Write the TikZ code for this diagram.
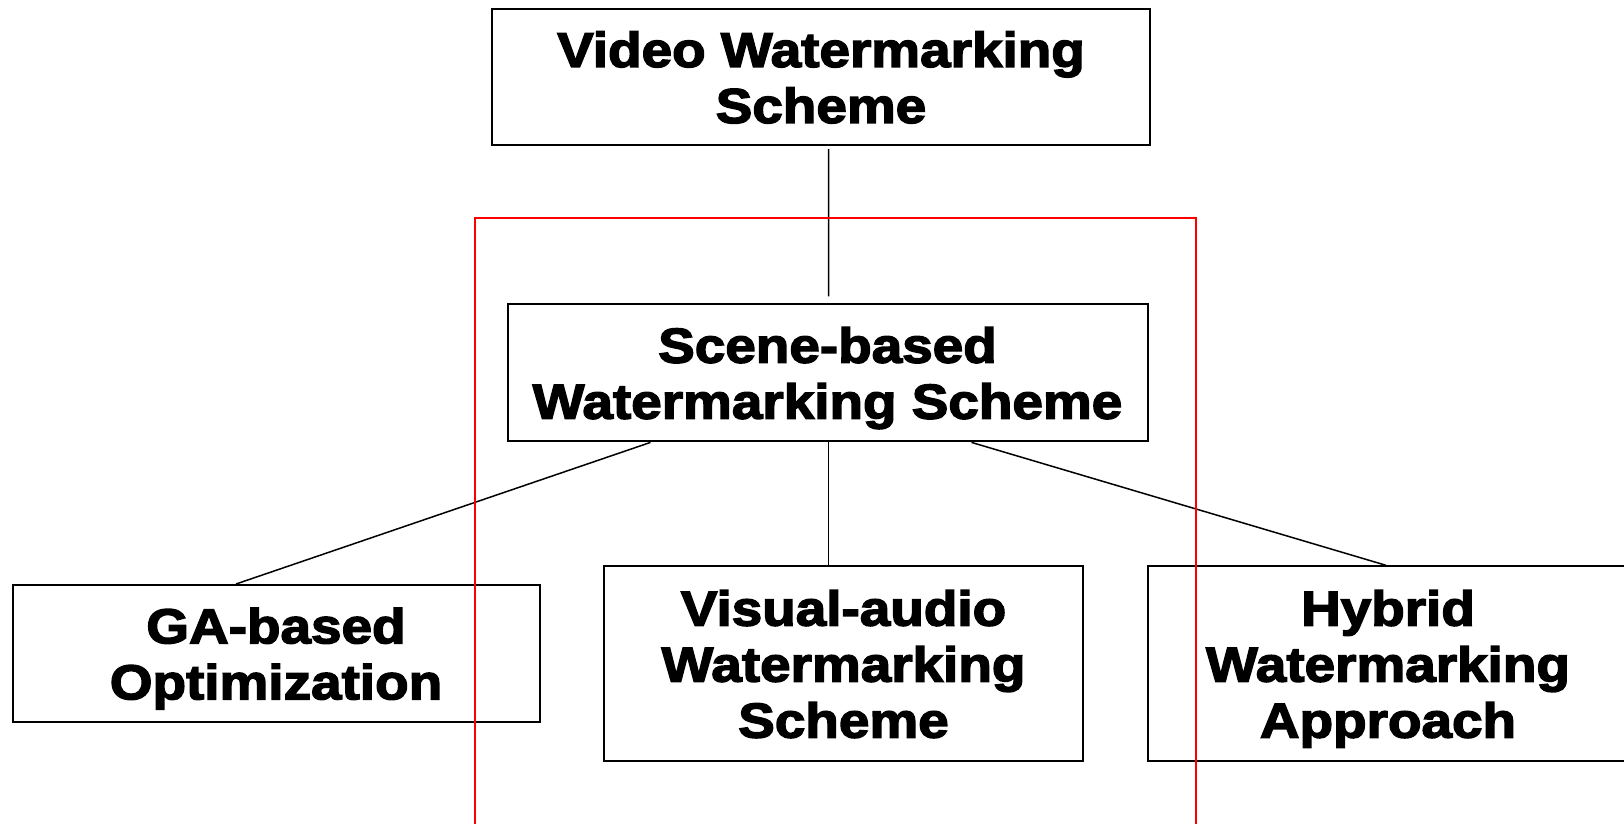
\documentclass[tikz,border=0pt]{standalone}
\usepackage{fontspec}
\newfontfamily\boxfont[FakeStretch=1.12,BoldFeatures={FakeBold=3}]{Liberation Sans}
\tikzset{
  schemebox/.style={draw=black, line width=2pt, rectangle, align=center,
    inner sep=0pt, text depth=0pt,
    font=\boxfont\bfseries\fontsize{49}{56}\selectfont},
  link/.style={draw=black, line width=1.5pt},
  frameline/.style={draw=red, line width=2pt}
}
\begin{document}
\begin{tikzpicture}[x=1pt, y=-1pt]
  \useasboundingbox (0,0) rectangle (1624,823);
  \clip (0,0) rectangle (1624,823);

  % hierarchy of schemes
  \node[schemebox, minimum width=658pt, minimum height=136pt] (video) at (821,77.2)
    {Video Watermarking\\Scheme};
  \node[schemebox, minimum width=640pt, minimum height=137pt] (scene) at (827.5,372.9)
    {Scene-based\\Watermarking Scheme};
  \node[schemebox, minimum width=527pt, minimum height=137pt] (ga) at (276,653.5)
    {GA-based\\Optimization};
  \node[schemebox, minimum width=479.5pt, minimum height=195pt] (visual) at (843.5,663.8)
    {Visual-audio\\Watermarking\\Scheme};
  \node[schemebox, minimum width=480.5pt, minimum height=195pt] (hybrid) at (1388,663.8)
    {Hybrid\\Watermarking\\Approach};

  % connectors
  \draw[link] ([xshift=7.6pt, yshift=-3pt]video.south) -- ([xshift=1pt, yshift=7pt]scene.north);
  \draw[link] ([xshift=-177pt]scene.south) -- ([xshift=-40pt]ga.north);
  \draw[link] ([xshift=1pt]scene.south) -- ([xshift=-15pt]visual.north);
  \draw[link] ([xshift=144pt]scene.south) -- ([xshift=-2pt]hybrid.north);

  % red frame around the scene-based branch
  \draw[frameline] (475.4,830) -- (475.4,217.5) -- (1196.2,217.5) -- (1196.2,830);
\end{tikzpicture}
\end{document}
